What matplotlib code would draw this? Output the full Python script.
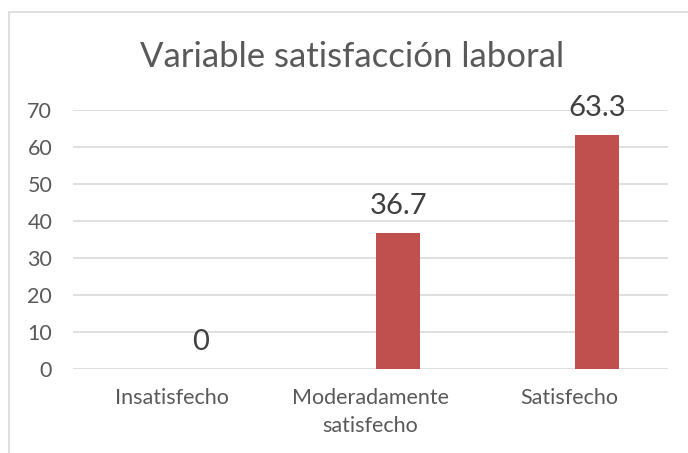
import matplotlib.pyplot as plt
from matplotlib.patches import Rectangle
import numpy as np

categories = ['Insatisfecho', 'Moderadamente\nsatisfecho', 'Satisfecho']
values = [0, 36.7, 63.3]
value_labels = ['0', '36.7', '63.3']
yticks = [0, 10, 20, 30, 40, 50, 60, 70]

plt.rcParams['font.family'] = ['Lato', 'DejaVu Sans']

fig = plt.figure(figsize=(6.88, 4.53), dpi=100)
ax = fig.add_axes([73 / 688, 1 - 369 / 453, 595 / 688, 259 / 453])

# outer chart border (cut off at right and bottom)
fig.patches.append(Rectangle((9 / 688, -0.1), 1.2, 1 - 12 / 453 + 0.1,
                             transform=fig.transFigure, fill=False,
                             edgecolor='#d9d9d9', linewidth=1.2))

x = np.arange(len(categories))
offset = 0.141
bars = ax.bar(x + offset, values, width=0.222, color='#c0504d', zorder=3)

for xi, v, lab in zip(x, values, value_labels):
    ax.annotate(lab, (xi + offset, v), xytext=(0, 10), textcoords='offset points',
                ha='center', va='bottom', fontsize=21, color='#404040')

ax.set_xlim(-0.5, len(categories) - 0.5)
ax.set_ylim(0, 70)
ax.set_yticks(yticks)
ax.set_xticks(x)
ax.set_xticklabels(categories, fontsize=15.5, color='#595959', linespacing=1.45)
ax.tick_params(axis='y', labelsize=15.5, labelcolor='#595959', length=0, pad=15)
ax.tick_params(axis='x', length=0, pad=14)
ax.grid(axis='y', color='#d9d9d9', linewidth=1.2, zorder=0)
for s in ax.spines.values():
    s.set_visible(False)

fig.text(352 / 688, 1 - 67 / 453, 'Variable satisfacción laboral', ha='center',
         va='baseline', fontsize=25, color='#595959')

fig.savefig('out.png', dpi=100)
